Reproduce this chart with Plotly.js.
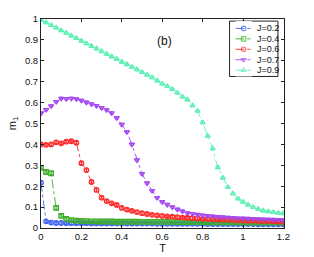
<!DOCTYPE html>
<html><head><meta charset="utf-8">
<script src="https://cdn.plot.ly/plotly-3.0.1.min.js"></script>
<style>html,body{margin:0;padding:0;background:#fff}#chart{width:314px;height:257px}</style>
</head><body><div id="chart"></div>
<script>
// Temperature grid (step 0.025 from 0 to 1.2)
const T = [0,0.025,0.05,0.075,0.1,0.125,0.15,0.175,0.2,0.225,0.25,0.275,0.3,0.325,0.35,0.375,0.4,0.425,0.45,0.475,0.5,0.525,0.55,0.575,0.6,0.625,0.65,0.675,0.7,0.725,0.75,0.775,0.8,0.825,0.85,0.875,0.9,0.925,0.95,0.975,1.0,1.025,1.05,1.075,1.1,1.125,1.15,1.175,1.2];

const mJ02 = [0.217,0.032,0.026,0.024,0.024,0.023,0.023,0.023,0.023,0.023,0.022,0.022,0.022,0.022,0.022,0.022,0.021,0.021,0.021,0.021,0.021,0.021,0.021,0.020,0.020,0.020,0.020,0.020,0.020,0.020,0.020,0.020,0.020,0.019,0.019,0.019,0.019,0.019,0.019,0.019,0.019,0.019,0.019,0.018,0.018,0.018,0.018,0.018,0.018];
const mJ04 = [0.288,0.268,0.262,0.096,0.058,0.044,0.038,0.035,0.034,0.033,0.032,0.032,0.031,0.031,0.031,0.030,0.030,0.030,0.030,0.030,0.029,0.029,0.029,0.029,0.029,0.029,0.028,0.028,0.028,0.028,0.028,0.028,0.028,0.027,0.027,0.027,0.027,0.027,0.027,0.027,0.027,0.026,0.026,0.026,0.026,0.026,0.026,0.026,0.026];
const mJ06 = [0.400,0.398,0.400,0.410,0.405,0.413,0.415,0.408,0.310,0.277,0.220,0.182,0.145,0.129,0.118,0.110,0.096,0.088,0.082,0.076,0.071,0.067,0.063,0.060,0.058,0.056,0.054,0.052,0.050,0.049,0.047,0.046,0.044,0.043,0.042,0.041,0.040,0.039,0.038,0.037,0.036,0.035,0.035,0.034,0.033,0.032,0.032,0.031,0.030];
const mJ07 = [0.549,0.566,0.584,0.604,0.620,0.618,0.620,0.617,0.610,0.601,0.593,0.585,0.575,0.565,0.550,0.527,0.495,0.460,0.400,0.325,0.260,0.215,0.178,0.145,0.125,0.112,0.100,0.089,0.080,0.072,0.068,0.064,0.061,0.058,0.056,0.054,0.052,0.050,0.049,0.047,0.046,0.045,0.044,0.043,0.042,0.041,0.040,0.039,0.038];
const mJ09 = [0.995,0.983,0.970,0.958,0.945,0.933,0.920,0.908,0.895,0.883,0.870,0.858,0.845,0.833,0.820,0.808,0.795,0.783,0.770,0.758,0.745,0.733,0.720,0.705,0.690,0.678,0.664,0.647,0.628,0.614,0.586,0.560,0.505,0.440,0.380,0.290,0.240,0.195,0.165,0.140,0.125,0.111,0.099,0.090,0.083,0.079,0.075,0.072,0.070];

const names = ['J=0.2','J=0.4','J=0.6','J=0.7','J=0.9'];
const series = [mJ02, mJ04, mJ06, mJ07, mJ09];
const colors = ['#4062f0','#3cae2a','#ff2a2a','#a548f2','#5cf0b4'];
const symbols = ['circle-open','square-open','circle-open','triangle-down-open','triangle-up-open'];
const FONT = 'Liberation Sans, Arial, sans-serif';

// main data traces
const traces = series.map((ys,i)=>({
  x: T, y: ys, name: names[i], type:'scatter', mode:'lines+markers', showlegend:false,
  line:{color:colors[i], width:0.9, dash:'dashdot'},
  marker:{symbol:symbols[i], size:4.5, color:colors[i], line:{color:colors[i], width:1.3}},
  error_y:{type:'constant', value:0.006, color:colors[i], thickness:1, width:1.5}
}));

// legend samples drawn on a small helper axis (x2/y2) inside the legend box
const legX = [0, 1, 2];
series.forEach((ys,i)=>{
  const row = 4 - i;
  traces.push({
    x: legX, y: [row,row,row], xaxis:'x2', yaxis:'y2', type:'scatter', mode:'lines+markers', showlegend:false,
    line:{color:colors[i], width:0.9, dash:'dashdot'},
    marker:{symbol:symbols[i], size:[0,4.5,0], color:colors[i], line:{color:colors[i], width:1.1}}
  });
});

const axisBase = {showline:true, linecolor:'#222', linewidth:1, mirror:'ticks', ticks:'inside', ticklen:3, tickcolor:'#222', zeroline:false, showgrid:false, tickfont:{family:FONT, size:9.5, color:'#111'}};

const boxL = 0.776, boxR = 0.975, boxT = 0.99, boxB = 0.725;

const annotations = [{text:'(b)', xref:'paper', yref:'paper', x:0.51, y:0.94, showarrow:false, font:{family:FONT, size:12, color:'#111'}}];
names.forEach((n,i)=>{
  annotations.push({text:n, xref:'paper', yref:'y2', x:0.882, y:4-i, xanchor:'left', yanchor:'middle', showarrow:false, font:{family:FONT, size:9, color:'#111'}});
});

const layout = {
  width:314, height:257,
  margin:{l:41, r:30, t:19, b:29},
  paper_bgcolor:'#fff', plot_bgcolor:'#fff',
  showlegend:false,
  xaxis: Object.assign({}, axisBase, {range:[0,1.203], tickvals:[0,0.2,0.4,0.6,0.8,1,1.2], ticktext:['0','0.2','0.4','0.6','0.8','1','1.2'], title:{text:'T', font:{family:FONT, size:11, color:'#111'}, standoff:2}}),
  yaxis: Object.assign({}, axisBase, {range:[0,1], tickvals:[0,0.1,0.2,0.3,0.4,0.5,0.6,0.7,0.8,0.9,1], ticktext:['0','0.1','0.2','0.3','0.4','0.5','0.6','0.7','0.8','0.9','1'], title:{text:'m<sub>1</sub>', font:{family:FONT, size:11, color:'#111'}, standoff:6}}),
  xaxis2:{domain:[0.80, 0.868], range:[0,2], visible:false, fixedrange:true, anchor:'y2'},
  yaxis2:{domain:[boxB, boxT], range:[-0.6,4.7], visible:false, fixedrange:true, anchor:'x2'},
  shapes:[{type:'rect', xref:'paper', yref:'paper', x0:boxL, x1:boxR, y0:boxB, y1:boxT, line:{color:'#222', width:1}, fillcolor:'rgba(255,255,255,1)', layer:'below'}],
  annotations: annotations
};

Plotly.newPlot('chart', traces, layout, {displayModeBar:false, staticPlot:true});
</script></body></html>
